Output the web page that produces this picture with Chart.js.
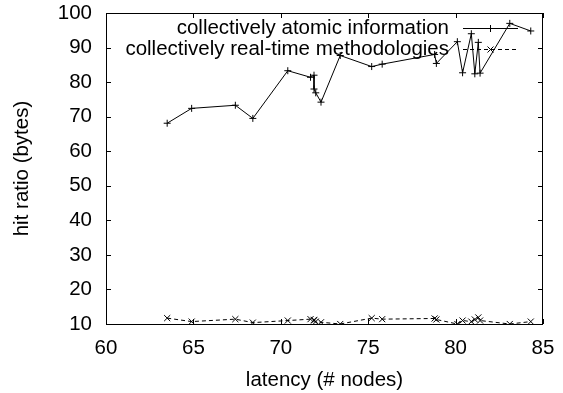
<!DOCTYPE html>
<html>
<head>
<meta charset="utf-8">
<script src="https://cdn.jsdelivr.net/npm/chart.js@4/dist/chart.umd.min.js"></script>
<style>
  html, body { margin: 0; padding: 0; background: #fff; }
  #myChart { display: block; }
</style>
</head>
<body>
<canvas id="myChart" width="563" height="393"></canvas>
<script>
// data
var latency = [63.5, 64.9, 67.4, 68.4, 70.4, 71.7, 71.9, 71.9, 72.0, 72.3, 73.4, 75.2, 75.8, 78.8, 78.9, 80.1, 80.4, 80.9, 81.1, 81.3, 81.4, 83.1, 84.3];
var atomicInfo = [68.1, 72.4, 73.3, 69.5, 83.3, 81.4, 82.0, 78.0, 76.9, 74.2, 87.7, 84.5, 85.2, 88.0, 85.4, 91.7, 82.7, 94.0, 82.4, 91.5, 82.6, 97.0, 94.8];
var realTimeMeth = [11.7, 10.7, 11.4, 10.4, 11.0, 11.4, 11.2, 11.0, 10.7, 10.5, 10.0, 11.7, 11.4, 11.6, 11.3, 10.0, 11.0, 10.7, 11.3, 11.9, 11.0, 10.0, 10.7];
var seriesNames = ["collectively atomic information", "collectively real-time methodologies"];
var xTicks = [60, 65, 70, 75, 80, 85];
var yTicks = [10, 20, 30, 40, 50, 60, 70, 80, 90, 100];

var FONT = "Liberation Sans, Arial, Helvetica, sans-serif";
var FSIZE = 20.5;

function toPoints(xs, ys) {
  var out = [];
  for (var i = 0; i < xs.length; i++) out.push({x: xs[i], y: ys[i]});
  return out;
}

// gnuplot style frame, inner ticks and key
var gnuFrame = {
  id: 'gnuFrame',
  beforeDatasetsDraw: function(chart) {
    var c = chart.ctx, a = chart.chartArea;
    var xs = chart.scales.x, ys = chart.scales.y;
    c.save();
    c.strokeStyle = '#000';
    c.lineWidth = 1;
    c.beginPath();
    xTicks.forEach(function(v) {
      var px = Math.round(xs.getPixelForValue(v)) + 0.5;
      c.moveTo(px, a.bottom); c.lineTo(px, a.bottom - 5);
      c.moveTo(px, a.top); c.lineTo(px, a.top + 5);
    });
    yTicks.forEach(function(v) {
      var py = Math.round(ys.getPixelForValue(v)) + 0.5;
      c.moveTo(a.left, py); c.lineTo(a.left + 5, py);
      c.moveTo(a.right, py); c.lineTo(a.right - 5, py);
    });
    c.stroke();

    // key
    c.font = FSIZE + 'px ' + FONT;
    c.fillStyle = '#000';
    c.textAlign = 'right';
    c.textBaseline = 'middle';
    var rows = [28, 49];
    var x1 = 463, x2 = 518;
    for (var i = 0; i < 2; i++) {
      c.fillText(seriesNames[i], 449, rows[i]);
      c.beginPath();
      c.setLineDash(i === 0 ? [] : [4, 3]);
      c.moveTo(x1, rows[i] + 0.5); c.lineTo(x2, rows[i] + 0.5);
      c.stroke();
      c.setLineDash([]);
      var mx = (x1 + x2) / 2, my = rows[i] + 0.5;
      c.beginPath();
      if (i === 0) {
        c.moveTo(mx - 3.5, my); c.lineTo(mx + 3.5, my);
        c.moveTo(mx, my - 3.5); c.lineTo(mx, my + 3.5);
      } else {
        c.moveTo(mx - 3, my - 3); c.lineTo(mx + 3, my + 3);
        c.moveTo(mx - 3, my + 3); c.lineTo(mx + 3, my - 3);
      }
      c.stroke();
    }
    c.restore();
  },
  afterDraw: function(chart) {
    var c = chart.ctx, a = chart.chartArea;
    c.save();
    c.strokeStyle = '#000';
    c.lineWidth = 1;
    c.strokeRect(Math.round(a.left) + 0.5, Math.round(a.top) + 0.5,
                 Math.round(a.right - a.left) - 1, Math.round(a.bottom - a.top));
    c.restore();
  }
};

var ctx = document.getElementById("myChart");
var myChart = new Chart(ctx, {
  type: 'scatter',
  data: {
    datasets: [{
      label: seriesNames[0],
      data: toPoints(latency, atomicInfo),
      showLine: true,
      borderColor: '#000',
      backgroundColor: '#000',
      borderWidth: 1,
      pointStyle: 'cross',
      pointRadius: 3.5,
      pointBorderWidth: 1,
      tension: 0
    }, {
      label: seriesNames[1],
      data: toPoints(latency, realTimeMeth),
      showLine: true,
      borderColor: '#000',
      backgroundColor: '#000',
      borderWidth: 1,
      borderDash: [4, 3],
      pointStyle: 'crossRot',
      pointRadius: 4.3,
      pointBorderWidth: 1,
      tension: 0
    }]
  },
  options: {
    responsive: false,
    animation: false,
    layout: { padding: { left: 0, right: 20, top: 13, bottom: 0 } },
    plugins: {
      legend: { display: false },
      tooltip: { enabled: false }
    },
    scales: {
      x: {
        type: 'linear',
        min: 60, max: 85,
        grid: { display: false, drawTicks: false },
        border: { display: false },
        afterBuildTicks: function(scale) {
          scale.ticks = xTicks.map(function(v) { return {value: v}; });
        },
        afterFit: function(scale) {
          scale.height = 69;
          scale.paddingLeft = 0; scale.paddingRight = 0;
        },
        ticks: {
          color: '#000',
          padding: 12,
          maxRotation: 0,
          font: { family: FONT, size: FSIZE }
        },
        title: {
          display: true,
          text: 'latency (# nodes)',
          color: '#000',
          padding: { top: 6, bottom: 0 },
          font: { family: FONT, size: FSIZE }
        }
      },
      y: {
        type: 'linear',
        min: 10, max: 100,
        grid: { display: false, drawTicks: false },
        border: { display: false },
        afterBuildTicks: function(scale) {
          scale.ticks = yTicks.map(function(v) { return {value: v}; });
        },
        afterFit: function(scale) {
          scale.width = 106;
          scale.paddingTop = 0; scale.paddingBottom = 0;
        },
        ticks: {
          color: '#000',
          padding: 14,
          font: { family: FONT, size: FSIZE }
        },
        title: {
          display: true,
          text: 'hit ratio (bytes)',
          color: '#000',
          padding: { top: 10, bottom: 0 },
          font: { family: FONT, size: FSIZE }
        }
      }
    }
  },
  plugins: [gnuFrame]
});
</script>
</body>
</html>
